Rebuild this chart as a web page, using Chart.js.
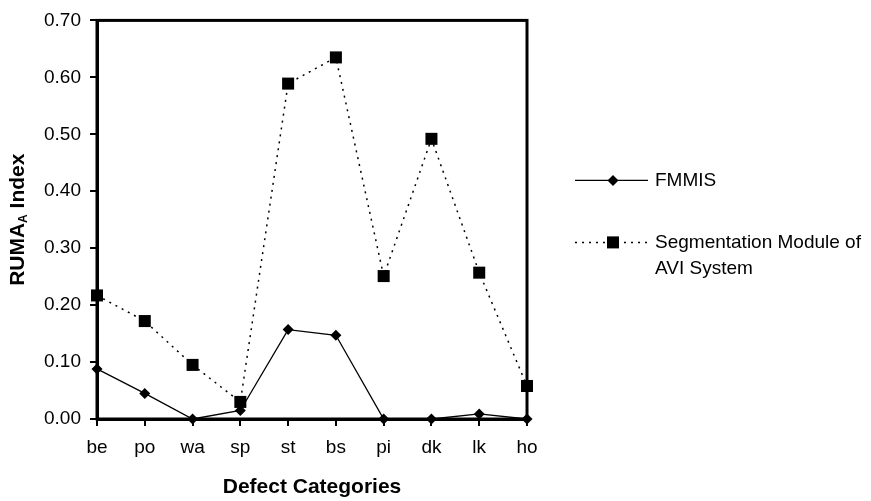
<!DOCTYPE html>
<html>
<head>
<meta charset="utf-8">
<script src="https://cdn.jsdelivr.net/npm/chart.js@4/dist/chart.umd.min.js"></script>
<style>
  html, body { margin: 0; padding: 0; background: #fff; }
  #wrap { width: 871px; height: 501px; position: relative; }
</style>
</head>
<body>
<div id="wrap"><canvas id="c"></canvas></div>
<script>
// categories and series
const categories = ['be', 'po', 'wa', 'sp', 'st', 'bs', 'pi', 'dk', 'lk', 'ho'];
const fmmis = [0.088, 0.045, 0.000, 0.015, 0.157, 0.147, 0.000, 0.000, 0.009, 0.000];
const segmentation = [0.217, 0.172, 0.095, 0.030, 0.589, 0.635, 0.251, 0.492, 0.257, 0.058];
const seriesNames = ['FMMIS', ['Segmentation Module of', 'AVI System']];
const yTicks = [0, 0.1, 0.2, 0.3, 0.4, 0.5, 0.6, 0.7];

const FONT = '"Liberation Sans", Arial, sans-serif';

// frame, y title with subscript, and the legend on the right
const extras = {
  id: 'extras',
  afterDraw(chart) {
    const ctx = chart.ctx;
    const a = chart.chartArea;
    ctx.save();

    // plot frame
    ctx.strokeStyle = '#000';
    ctx.lineWidth = 3;
    ctx.strokeRect(a.left, a.top, a.right - a.left, a.bottom - a.top);

    // y axis title: RUMA(sub A) Index
    ctx.fillStyle = '#000';
    const big = 'bold 21px ' + FONT;
    const small = 'bold 12px ' + FONT;
    ctx.font = big;
    const w1 = ctx.measureText('RUMA').width;
    const w3 = ctx.measureText(' Index').width;
    ctx.font = small;
    const w2 = ctx.measureText('A').width;
    const total = w1 + w2 + w3;
    ctx.translate(18, (a.top + a.bottom) / 2);
    ctx.rotate(-Math.PI / 2);
    ctx.textBaseline = 'middle';
    ctx.textAlign = 'left';
    let x = -total / 2;
    ctx.font = big;
    ctx.fillText('RUMA', x, 0);
    x += w1;
    ctx.font = small;
    ctx.fillText('A', x, 6);
    x += w2;
    ctx.font = big;
    ctx.fillText(' Index', x, 0);
    ctx.restore();

    // legend
    ctx.save();
    const lx0 = a.right + 48, lx1 = a.right + 121, mx = a.right + 86, tx = a.right + 128;
    const rows = [a.top + 160, a.top + 222];
    chart.data.datasets.forEach((ds, i) => {
      const y = rows[i];
      ctx.strokeStyle = '#000';
      ctx.lineWidth = ds.borderWidth;
      ctx.setLineDash(ds.borderDash || []);
      ctx.beginPath();
      ctx.moveTo(lx0, y);
      ctx.lineTo(lx1, y);
      ctx.stroke();
      ctx.setLineDash([]);
      ctx.fillStyle = '#000';
      ctx.beginPath();
      if (ds.pointStyle === 'rect') {
        const s = ds.pointRadius * Math.SQRT1_2;
        ctx.rect(mx - s, y - s, 2 * s, 2 * s);
      } else {
        const r = ds.pointRadius;
        ctx.moveTo(mx, y - r);
        ctx.lineTo(mx + r, y);
        ctx.lineTo(mx, y + r);
        ctx.lineTo(mx - r, y);
        ctx.closePath();
      }
      ctx.fill();
      ctx.font = '19px ' + FONT;
      ctx.textBaseline = 'middle';
      ctx.textAlign = 'left';
      const lines = [].concat(seriesNames[i]);
      lines.forEach((t, k) => ctx.fillText(t, tx, y + k * 26));
    });
    ctx.restore();
  }
};

new Chart(document.getElementById('c'), {
  type: 'line',
  data: {
    labels: categories,
    datasets: [
      {
        label: 'FMMIS',
        data: fmmis,
        borderColor: '#000',
        backgroundColor: '#000',
        borderWidth: 1.3,
        pointStyle: 'rectRot',
        pointRadius: 5.5,
        pointBorderWidth: 0,
        tension: 0,
        clip: false
      },
      {
        label: 'Segmentation Module of AVI System',
        data: segmentation,
        borderColor: '#000',
        backgroundColor: '#000',
        borderWidth: 1.5,
        borderDash: [2, 5],
        pointStyle: 'rect',
        pointRadius: 8.5,
        pointBorderWidth: 0,
        tension: 0,
        clip: false
      }
    ]
  },
  plugins: [extras],
  options: {
    responsive: true,
    maintainAspectRatio: false,
    animation: false,
    layout: { padding: { left: 0, right: 344, top: 15, bottom: 1 } },
    plugins: {
      legend: { display: false },
      tooltip: { enabled: false }
    },
    scales: {
      x: {
        offset: false,
        grid: { display: true, drawOnChartArea: false, color: '#000', lineWidth: 2, tickLength: 7 },
        border: { display: true, color: '#000', width: 3 },
        ticks: { color: '#000', font: { family: FONT, size: 19 }, padding: 10, maxRotation: 0, autoSkip: false },
        title: { display: true, text: 'Defect Categories', color: '#000', font: { family: FONT, size: 21, weight: 'bold' }, padding: { top: 8, bottom: 0 } },
        afterFit(scale) { scale.height = 81; }
      },
      y: {
        min: 0,
        max: 0.7,
        afterBuildTicks(scale) { scale.ticks = yTicks.map(v => ({ value: v })); },
        grid: { display: true, drawOnChartArea: false, color: '#000', lineWidth: 2, tickLength: 7 },
        border: { display: true, color: '#000', width: 3 },
        ticks: { color: '#000', font: { family: FONT, size: 19 }, padding: 9, callback: v => Number(v).toFixed(2) },
        afterFit(scale) { scale.width = 97; }
      }
    }
  }
});
</script>
</body>
</html>
